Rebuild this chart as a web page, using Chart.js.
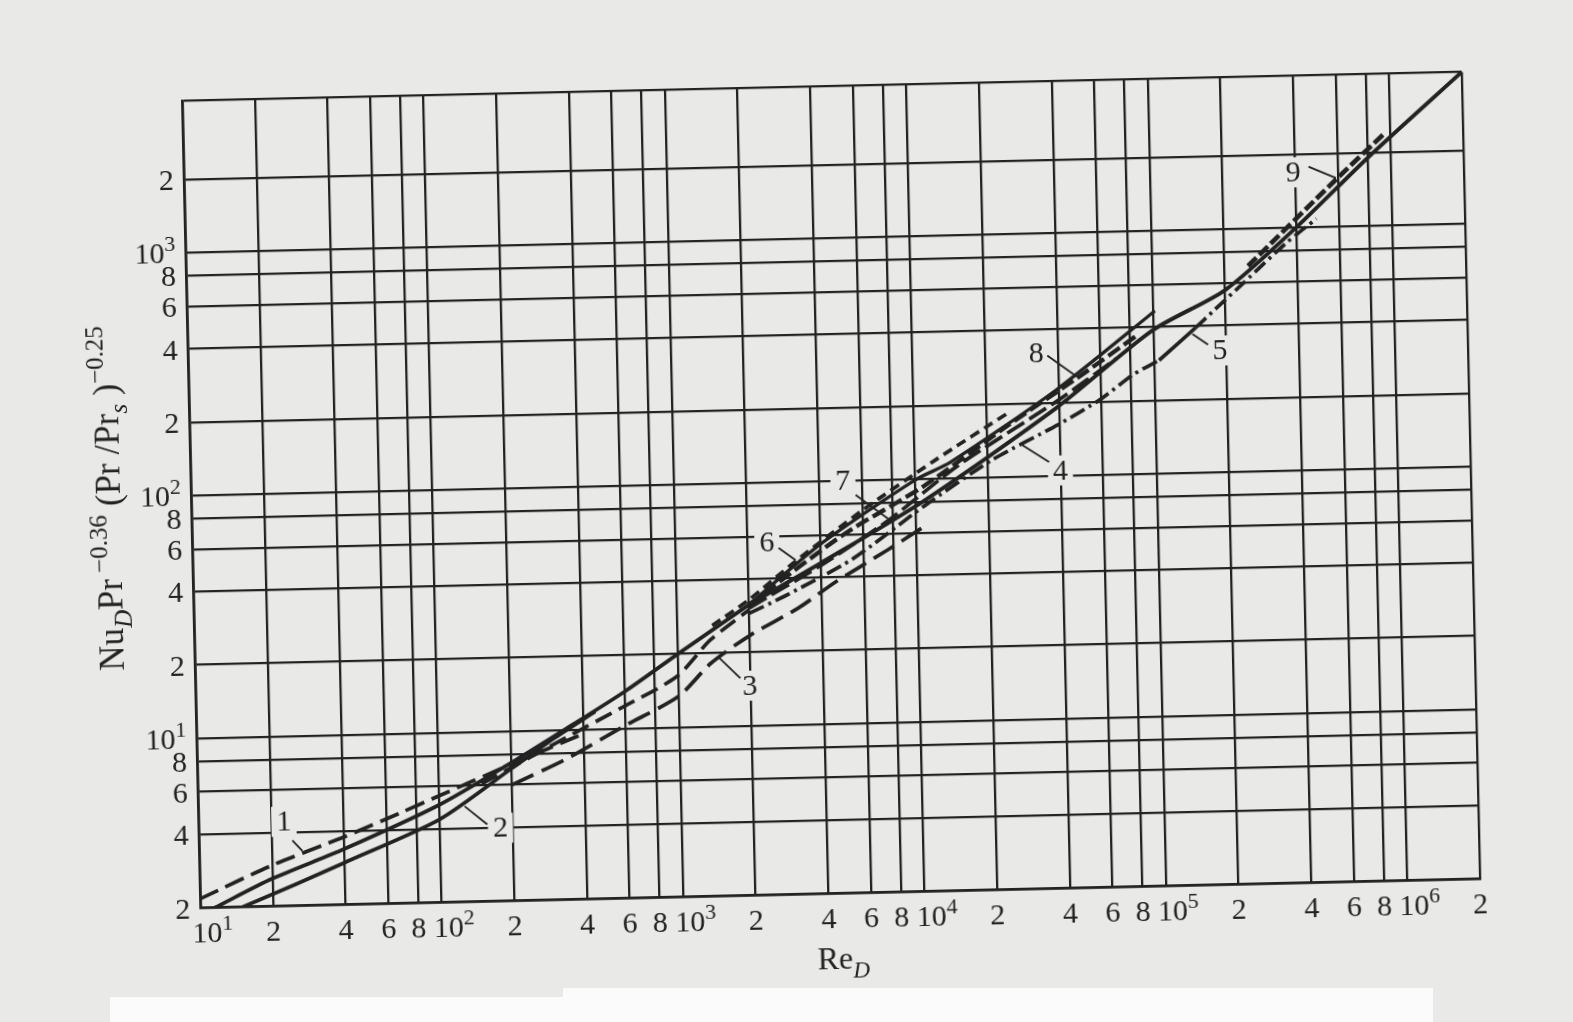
<!DOCTYPE html>
<html><head><meta charset="utf-8">
<script src="https://cdn.jsdelivr.net/npm/chart.js@4.4.1/dist/chart.umd.min.js"></script>
<style>
html,body{margin:0;padding:0;background:#e9e9e7;overflow:hidden;width:1573px;height:1022px;}
#wrap{position:absolute;left:0;top:0;width:1573px;height:1022px;transform-origin:831px 490px;transform:rotate(-1.3deg);}
canvas{display:block;}
.cover{position:absolute;background:#fbfbfb;}
</style></head><body>
<div id="wrap"><canvas id="c" width="1573" height="1022"></canvas></div>
<div class="cover" style="left:110px;top:997px;width:455px;height:25px"></div>
<div class="cover" style="left:563px;top:988px;width:870px;height:34px"></div>
<script>
// ---- tick values / labels (base, superscript) ----
const xTickValues = [10,20,40,60,80,100,200,400,600,800,1e3,2e3,4e3,6e3,8e3,1e4,2e4,4e4,6e4,8e4,1e5,2e5,4e5,6e5,8e5,1e6,2e6];
const xTickLabels = [['10','1'],'2','4','6','8',['10','2'],'2','4','6','8',['10','3'],'2','4','6','8',['10','4'],'2','4','6','8',['10','5'],'2','4','6','8',['10','6'],'2'];
const yTickValues = [2,4,6,8,10,20,40,60,80,100,200,400,600,800,1000,2000,4200];
const yTickLabels = ['2','4','6','8',['10','1'],'2','4','6','8',['10','2'],'2','4','6','8',['10','3'],'2',''];

// ---- curves: [Re_D, Nu_D Pr^-0.36 (Pr/Prs)^-0.25] ----
const curve1  = [[10,2.18],[20,2.95],[40,3.8],[70,4.75],[100,5.5],[200,7.3],[400,9.6]];
const curve2a = [[11.5,2],[20,2.6],[40,3.39],[100,5.05],[200,7.4],[340,10.1],[600,14.2],[1000,20],[2000,31.5]];
const curve2b = [[15,2],[25,2.45],[40,2.98],[100,4.4],[200,7.0],[300,9.2],[450,11.8]];
const curve3a = [[150,6.1],[340,9.3],[600,12.4],[990,16.2],[1370,22.7],[2000,30]];
const curve3b = [[200,6.0],[340,7.6],[600,10.3],[1000,13.4],[1370,18.2],[2000,23.5],[3200,30.2],[4600,38.4],[7600,51.4],[10500,62.5]];
const curve4  = [[2000,29],[2800,33.8],[5400,47.4],[10800,77],[21000,118],[39500,162],[59400,204],[81500,256],[105000,292]];
const curve5  = [[105000,292],[150000,395]];
const curve5b = [[150000,395],[180000,465],[240000,600],[360000,860],[485000,1080]];
const curve6  = [[1400,26],[2000,33],[3140,47],[6000,75],[12000,118],[25000,185]];
const curve7  = [[2000,30.5],[4000,45],[7700,68],[15000,112],[40000,205],[70000,300]];
const curve8  = [[2000,31.5],[5000,60],[10800,93],[25000,165],[47600,250],[85000,370]];
const curveTop= [[2000,31.5],[4000,55],[10000,99],[14000,116],[39000,225],[102000,467]];
const curve9  = [[2000,31.5],[4000,46],[10800,81],[39000,190],[100000,390],[200000,560],[400000,1000],[800000,1900],[2000000,4200]];
const curve9b = [[250000,700],[590000,1560],[950000,2400]];

// ---- curve labels: text, position, leader line ----
const labelText = ['1','2','3','4','5','6','7','8','9'];
const labelAt   = [[22.6,4.45],[178,4.0],[1980,14.6],[40000,105],[188000,316],[2400,56.7],[5020,100],[32600,321],[393000,1683]];
const leaderFrom= [[24.4,3.72],[157,4.15],[1810,15.7],[36000,114],[168000,335],[2680,53.5],[5650,87],[36200,313],[455000,1770]];
const leaderTo  = [[26.8,3.36],[127,4.95],[1480,19.2],[27500,136],[145000,372],[3140,47.5],[7660,69],[47600,255],[590000,1580]];

const INK = '#222222';
const PAPER = '#e9e9e7';
const FONT = "'Liberation Serif','Times New Roman',serif";
const TICK_SIZE = 30, SUP_SIZE = 22;

function ds(data, dash, width) {
  return { data: data.map(([x,y]) => ({x, y})), borderColor: INK, borderWidth: width || 3.7,
    borderDash: dash || [], pointRadius: 0, tension: 0.25, fill: false,
    borderCapStyle: 'butt', borderJoinStyle: 'round' };
}

const datasets = [
  ds(curve1, [20,8]),
  ds(curve2a, []),
  ds(curve2b, []),
  ds(curve3a, [18,8]),
  ds(curve3b, [24,9]),
  ds(curve4, [16,5,3,5]),
  ds(curve5, []),
  ds(curve5b, [14,5,3,5]),
  ds(curve6, [10,6]),
  ds(curve7, [20,6]),
  ds(curve8, [14,5], 4.3),
  ds(curveTop, [], 3.3),
  ds(curve9, [], 3.9),
  ds(curve9b, [12,4], 4.7)
];

function fontOf(s){ return (s.italic ? 'italic ' : '') + s.size + 'px ' + FONT; }
function richWidth(ctx, segs) {
  let w = 0;
  for (const s of segs) { ctx.font = fontOf(s); w += ctx.measureText(s.t).width; }
  return w;
}
function drawRich(ctx, segs, x, y, align) {
  const w = richWidth(ctx, segs);
  let cx = align === 'right' ? x - w : (align === 'left' ? x : x - w/2);
  ctx.textAlign = 'left'; ctx.textBaseline = 'alphabetic';
  for (const s of segs) { ctx.font = fontOf(s); ctx.fillText(s.t, cx, y + (s.dy||0)); cx += ctx.measureText(s.t).width; }
}
function tickSegs(lab) {
  if (Array.isArray(lab)) return [{t:lab[0], size:TICK_SIZE},{t:lab[1], size:SUP_SIZE, dy:-12}];
  return [{t:lab, size:TICK_SIZE}];
}

// tick labels drawn at the positions given by the library's scales
const tickLabelPlugin = {
  id: 'tickLabels',
  afterDraw(chart) {
    const ctx = chart.ctx, a = chart.chartArea, xs = chart.scales.x, ys = chart.scales.y;
    ctx.save();
    ctx.fillStyle = INK;
    xs.ticks.forEach((t, i) => {
      const lab = xTickLabels[i];
      const px = xs.getPixelForValue(t.value) + (Array.isArray(lab) ? 12 : 0);
      drawRich(ctx, tickSegs(lab), px, a.bottom + 34, 'center');
    });
    ys.ticks.forEach((t, i) => {
      const lab = yTickLabels[i];
      if (!lab) return;
      drawRich(ctx, tickSegs(lab), a.left - 10, ys.getPixelForValue(t.value) + 10, 'right');
    });
    ctx.restore();
  }
};

const labelsPlugin = {
  id: 'curveLabels',
  beforeDatasetsDraw(chart) {
    const ctx = chart.ctx, xs = chart.scales.x, ys = chart.scales.y;
    ctx.save();
    ctx.font = '30px ' + FONT;
    ctx.fillStyle = PAPER;
    labelText.forEach((t, i) => {
      const px = xs.getPixelForValue(labelAt[i][0]), py = ys.getPixelForValue(labelAt[i][1]);
      const w = ctx.measureText(t).width + 10;
      ctx.fillRect(px - w/2, py - 15, w, 30);
    });
    ctx.restore();
  },
  afterDatasetsDraw(chart) {
    const ctx = chart.ctx, xs = chart.scales.x, ys = chart.scales.y;
    ctx.save();
    ctx.font = '30px ' + FONT;
    ctx.fillStyle = INK; ctx.strokeStyle = INK; ctx.lineWidth = 1.8;
    ctx.textAlign = 'center'; ctx.textBaseline = 'middle';
    labelText.forEach((t, i) => {
      const px = xs.getPixelForValue(labelAt[i][0]), py = ys.getPixelForValue(labelAt[i][1]);
      ctx.fillText(t, px, py + 1);
      ctx.beginPath();
      ctx.moveTo(xs.getPixelForValue(leaderFrom[i][0]), ys.getPixelForValue(leaderFrom[i][1]));
      ctx.lineTo(xs.getPixelForValue(leaderTo[i][0]), ys.getPixelForValue(leaderTo[i][1]));
      ctx.stroke();
    });
    ctx.restore();
  }
};

const titlesPlugin = {
  id: 'axisTitles',
  afterDraw(chart) {
    const ctx = chart.ctx, a = chart.chartArea;
    ctx.save();
    ctx.fillStyle = INK;
    drawRich(ctx, [{t:'Re', size:32},{t:'D', size:23, italic:true, dy:9}], (a.left + a.right)/2 + 2, a.bottom + 75, 'center');
    ctx.translate(a.left - 83, (a.top + a.bottom)/2 - 8);
    ctx.rotate(-Math.PI/2);
    drawRich(ctx, [
      {t:'Nu', size:35},{t:'D', size:25, italic:true, dy:9},{t:'Pr', size:35},{t:' \u22120.36', size:25, dy:-14},
      {t:' (Pr /Pr', size:35},{t:'s', size:25, italic:true, dy:9},{t:' )', size:35},{t:'\u22120.25', size:25, dy:-14}
    ], 0, 12, 'center');
    ctx.restore();
  }
};

const axisCommon = {
  type: 'logarithmic',
  grid: { color: INK, lineWidth: 2.3, drawTicks: false },
  border: { display: true, color: INK, width: 2.8 },
  ticks: { display: false, autoSkip: false }
};

new Chart(document.getElementById('c'), {
  type: 'line',
  data: { datasets },
  options: {
    responsive: false, animation: false, devicePixelRatio: 1,
    layout: { padding: { left: 0, top: 86.5, right: 102, bottom: 0 } },
    plugins: { legend: { display: false }, tooltip: { enabled: false }, title: { display: false } },
    scales: {
      x: Object.assign({}, axisCommon, {
        min: 10, max: 2e6,
        afterBuildTicks: s => { s.ticks = xTickValues.map(v => ({ value: v })); },
        afterFit: s => { s.height = 128.5; }
      }),
      y: Object.assign({}, axisCommon, {
        min: 2, max: 4200,
        afterBuildTicks: s => { s.ticks = yTickValues.map(v => ({ value: v })); },
        afterFit: s => { s.width = 191; }
      })
    }
  },
  plugins: [labelsPlugin, titlesPlugin, tickLabelPlugin]
});
</script></body></html>
